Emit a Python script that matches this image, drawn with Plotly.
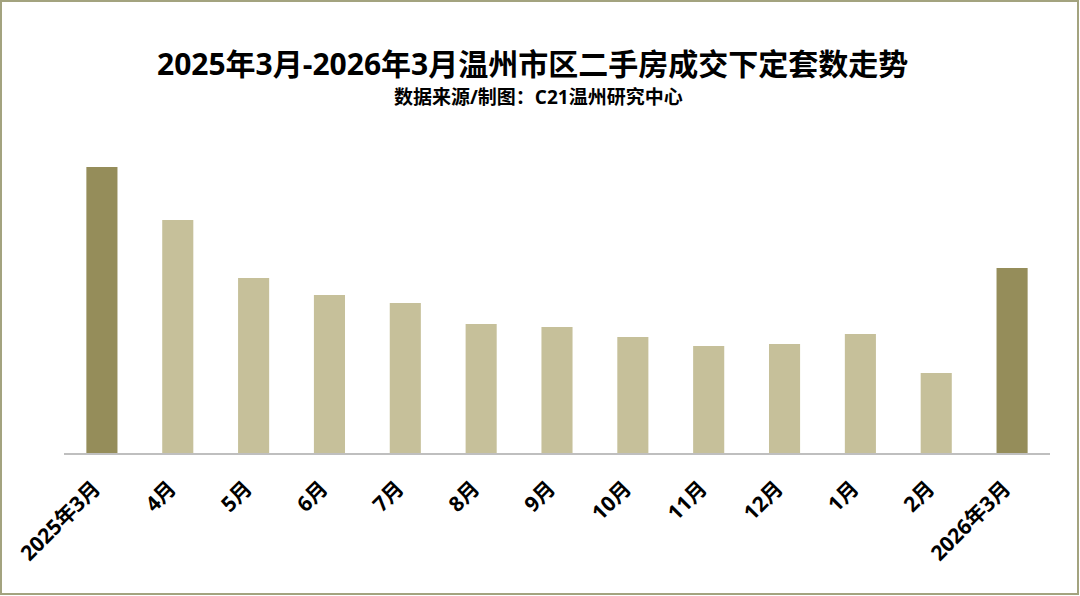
import plotly.graph_objects as go

categories = ["2025年3月", "4月", "5月", "6月", "7月", "8月", "9月", "10月", "11月", "12月", "1月", "2月", "2026年3月"]
values = [286, 233, 175, 158, 150, 129, 126, 116, 107, 109, 119, 80, 185]
highlight = [True, False, False, False, False, False, False, False, False, False, False, False, True]

DARK = "#958D5A"
LIGHT = "#C6C09A"
colors = [DARK if h else LIGHT for h in highlight]

FONT = "Open Sans, Noto Sans CJK SC, sans-serif"

fig = go.Figure(go.Bar(x=categories, y=values, marker=dict(color=colors, line=dict(width=0)), hoverinfo="x+y"))

L, R, T, B = 64, 30, 140, 143
W, H = 1080, 596
pw = W - L - R
ph = H - T - B

fig.update_layout(
    width=W, height=H,
    margin=dict(l=L, r=R, t=T, b=B),
    paper_bgcolor="white", plot_bgcolor="white",
    bargap=0.59,
    showlegend=False,
    font=dict(family=FONT, color="black"),
    annotations=[
        dict(text="<b>2025年3月-2026年3月温州市区二手房成交下定套数走势</b>", xref="paper", yref="paper",
             x=(532 - L) / pw, y=(T + ph - 64) / ph, xanchor="center", yanchor="middle", showarrow=False,
             font=dict(size=30, family=FONT, color="black")),
        dict(text="<b>数据来源/制图：C21温州研究中心</b>", xref="paper", yref="paper",
             x=(538 - L) / pw, y=(T + ph - 97) / ph, xanchor="center", yanchor="middle", showarrow=False,
             font=dict(size=19, family=FONT, color="black")),
    ],
    shapes=[
        dict(type="rect", xref="paper", yref="paper",
             x0=(1 - L) / pw, x1=(W - 2 - L) / pw, y0=(T + ph - (H - 2)) / ph, y1=(T + ph - 1) / ph,
             line=dict(color="#A3A37F", width=2), fillcolor="rgba(0,0,0,0)", layer="below"),
    ],
)
fig.update_xaxes(
    type="category", showgrid=False, showline=True, linecolor="#BFBFBF", linewidth=2,
    ticks="", tickangle=-45, tickfont=dict(size=21, family=FONT, color="black"),
    ticklabelstandoff=5,
)
fig.update_yaxes(visible=False, range=[0, ph], showgrid=False)
fig.update_xaxes(tickprefix="<b>", ticksuffix="\u00a0\u00a0</b>")

fig.write_html("out.html", config={"displayModeBar": False},
               post_script="document.body.style.margin='0';document.body.style.padding='0';window.dispatchEvent(new Event('resize'));")
